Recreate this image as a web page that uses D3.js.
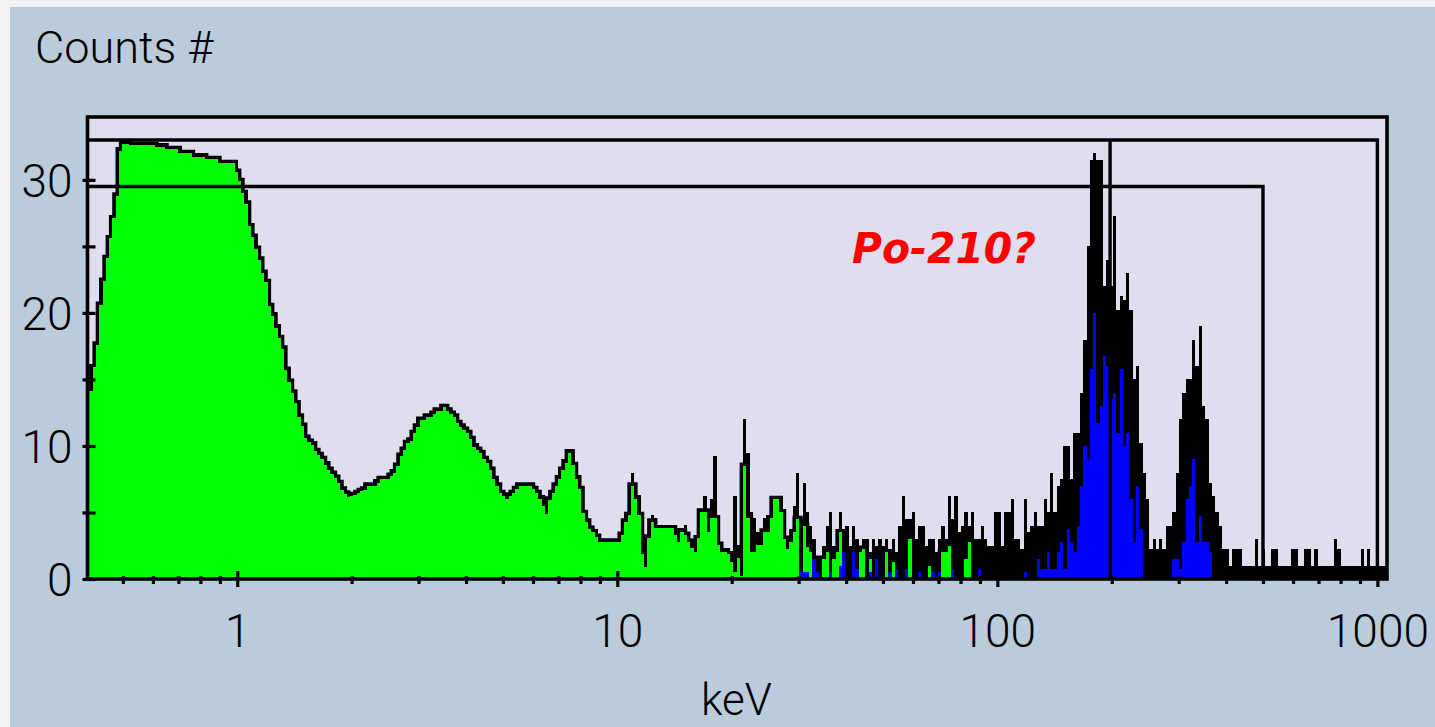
<!DOCTYPE html>
<html>
<head>
<meta charset="utf-8">
<script src="https://cdn.jsdelivr.net/npm/d3@7"></script>
<style>
  html, body { margin: 0; padding: 0; background: #f2f2f2; }
  svg { display: block; }
  .lbl { font-family: Roboto, "Liberation Sans", Arial, sans-serif; font-weight: 300; fill: #000; }
</style>
</head>
<body>
<svg id="chart" width="1435" height="727"></svg>
<script>
// Channel layout: log-spaced energy bins from E_MIN to E_MAX (keV)
const E_MIN = 0.4;
const E_MAX = 1060;
const BIN_COUNT = 394;

// Green spectrum, counts per channel starting at channel 0
const greenStart = 0;
const greenCounts = [
  12.5,14.1,15.9,17.6,20.6,22.4,24.1,25.6,27.1,28.8,
  32.2,32.7,32.7,32.6,32.6,32.6,32.6,32.6,32.6,32.6,
  32.6,32.5,32.5,32.5,32.3,32.3,32.3,32.3,32.0,32.0,
  32.0,32.0,31.75,31.75,31.75,31.75,31.55,31.55,31.55,31.55,
  31.25,31.25,31.25,31.25,31.25,30.6,29.9,29.0,28.2,26.5,
  25.7,24.8,24.0,23.0,22.3,20.5,19.8,18.9,18.1,17.3,
  15.7,14.8,14.0,13.2,12.2,11.5,10.6,10.3,10.1,9.6,
  9.3,9.0,8.6,8.2,7.9,7.6,7.2,6.7,6.4,6.2,
  6.25,6.3,6.45,6.6,6.7,7.0,7.0,7.0,7.25,7.5,
  7.5,7.5,7.75,8.0,8.5,9.25,9.7,10.2,10.4,10.95,
  11.45,11.95,11.95,12.2,12.2,12.4,12.65,12.65,12.9,12.65,
  12.4,12.2,11.7,11.45,11.2,10.95,10.5,9.95,9.7,9.45,
  9.0,8.7,8.2,7.5,7.0,6.45,6.25,6.05,6.25,6.45,
  6.75,7.0,7.0,7.0,7.0,6.75,6.45,6.05,5.5,4.9,
  5.95,6.45,7.0,7.55,8.2,8.75,9.5,8.55,7.55,6.75,
  4.95,4.3,3.75,3.5,3.15,2.8,2.8,2.8,2.8,2.8,
  2.8,2.8,3.3,4.3,4.8,7.0,6.05,4.8,1.85,0.9,
  3.1,4.3,3.8,3.8,3.8,3.8,3.8,3.8,3.3,2.8,
  3.55,3.3,2.8,2.3,2.05,3.05,5.05,5.05,3.55,4.55,
  4.55,2.55,2.05,2.05,1.85,1.3,0.55,1.55,0.2,8.5,
  4.55,2.05,2.05,2.55,2.55,3.55,3.55,4.55,6.0,6.0,
  5.0,3.0,2.25,2.75,3.5,4.5,0.5,4.0,2.4,2.0,
  1.5,0,0,1.5,2.0,0,1.5,2.0,3.5,0,
  0,0,0,0,2.0,2.25,0,1.5,0,0,
  0,0,2.0,0,1.25,0,0,0,0,3.0,
  0,0,0,0,0,1.0,0,0,0,2.0,
  2.0,2.5,0,0,0,0,1.5,2.75
];

// Black spectrum, counts per channel starting at channel 164
const blackStart = 164;
const blackCounts = [
  6.3,8.0,7.25,6.05,4.8,1.85,3.3,4.8,4.55,4.05,
  4.05,4.05,4.05,4.05,4.05,3.8,3.8,4.05,3.55,2.8,
  2.3,3.3,5.25,6.25,5.25,6.0,9.25,4.55,2.55,2.3,
  2.3,1.85,6.25,2.55,3.5,12.0,9.5,5.05,4.55,3.55,
  3.55,4.55,4.55,4.55,6.25,6.25,6.25,4.0,3.0,3.25,
  5.5,8.0,4.5,7.25,5.0,4.0,3.0,1.5,1.5,2.5,
  4.0,5.0,2.5,3.75,5.0,3.75,4.0,2.5,4.0,3.0,
  2.5,3.0,3.0,2.0,3.0,2.5,3.0,2.5,3.0,2.0,
  3.0,2.0,4.0,6.25,4.5,4.5,5.0,3.0,4.0,4.0,
  2.5,3.0,3.0,2.0,3.0,4.0,3.0,6.25,4.5,6.25,
  3.5,4.0,5.0,4.0,5.0,3.0,3.0,4.0,3.0,2.5,
  2.5,5.0,5.0,2.5,5.0,5.0,6.0,3.0,3.0,2.25,
  6.0,3.5,4.0,5.0,4.0,4.0,6.0,5.0,8.0,5.0,
  7.0,7.5,10.0,10.0,7.5,11.0,11.0,14.0,18.0,25.0,
  31.5,32.0,31.5,31.5,22.0,24.0,22.0,27.25,20.25,21.25,
  21.0,23.0,20.25,15.0,16.0,10.25,8.0,6.0,2.25,3.0,
  2.25,3.0,2.25,4.0,4.0,5.0,8.0,12.0,14.0,15.0,
  15.0,18.0,16.0,19.0,13.0,12.0,7.25,6.25,5.0,4.0,
  2.25,2.25,1.0,2.25,2.25,2.25,1.0,1.0,1.0,1.0,
  3.0,1.0,2.25,1.0,1.0,2.25,2.25,1.0,1.0,1.0,
  1.0,2.25,2.25,1.0,1.0,2.25,2.25,1.0,2.25,1.0,
  1.0,1.0,1.0,1.0,3.0,2.25,1.0,1.0,1.0,1.0,
  1.0,1.0,2.25,1.0,2.25,1.0,1.0,1.0,1.0,1.0
];

// Blue spectrum, counts per channel starting at channel 216
const blueStart = 216;
const blueCounts = [
  0.5,0.5,0.5,0,1.5,0.5,0,0,0,0.5,
  0,0,1.0,2.0,0,0,2.0,0.75,0,0,
  0,0.5,0,1.5,0,0,0,0.5,0,0.75,
  0,0,0.75,0,0,0,0.5,0,0,0,
  0.5,0,0.5,0,0,0,0.75,0,0,0,
  0,0,0,0,0.75,0,0,0,0,0,
  0,0,0,0,0,0,0,0,0.5,0,
  0,0,1.5,0.75,0.75,2.0,0.75,0.75,2.0,2.75,
  0.75,3.75,2.75,2.0,4.0,7.0,10.0,9.0,15.75,20.0,
  11.75,13.0,16.75,16.0,13.5,14.0,11.0,15.75,10.0,11.0,
  6.0,2.75,7.0,3.75,0,0,0,0,0,0,
  0,0,0,1.5,1.5,0.75,2.75,6.0,7.0,9.0,
  2.75,4.75,2.75,2.75,2.0
];

// Axis ticks
const yTickValues = [0, 5, 10, 15, 20, 25, 30];
const yTickLabels = [0, 10, 20, 30];
const xMajorTicks = [1, 10, 100, 1000];
const xMinorTicks = [0.5, 0.6, 0.7, 0.8, 0.9, 2, 3, 4, 5, 6, 7, 8, 9,
                     20, 30, 40, 50, 60, 70, 80, 90, 200, 300, 400, 500, 600, 700, 800, 900];

// Cursor / region markers: level (counts) and end energy (keV)
const markerLevels = [33.0, 29.5];
const markerEnds = [1000, 500];
const peakCursor = 198;
const peakLabel = "Po-210?";

const Y_MAX = 34.8;

const svg = d3.select("#chart");

// panel background
svg.append("rect").attr("x", 10).attr("y", 7).attr("width", 1425).attr("height", 720)
  .attr("fill", "#bacbdc");

const plot = { left: 86, right: 1387, top: 116, bottom: 579 };

const x = d3.scaleLog().domain([E_MIN, E_MAX]).range([plot.left, plot.right]);
const y = d3.scaleLinear().domain([0, Y_MAX]).range([plot.bottom, plot.top]);

svg.append("rect")
  .attr("x", plot.left).attr("y", plot.top)
  .attr("width", plot.right - plot.left).attr("height", plot.bottom - plot.top)
  .attr("fill", "#dedeee");

svg.append("defs").append("clipPath").attr("id", "plotClip")
  .append("rect")
  .attr("x", plot.left).attr("y", plot.top)
  .attr("width", plot.right - plot.left).attr("height", plot.bottom - plot.top);

const edge = i => E_MIN * Math.pow(E_MAX / E_MIN, i / BIN_COUNT);

function steps(start, values) {
  const pts = values.map((v, k) => ({ e: edge(start + k), v }));
  pts.push({ e: edge(start + values.length), v: values[values.length - 1] });
  return pts;
}

const area = d3.area().curve(d3.curveStepAfter)
  .x(d => x(d.e)).y0(y(0)).y1(d => y(d.v));
const line = d3.line().curve(d3.curveStepAfter)
  .x(d => x(d.e)).y(d => y(d.v));

const g = svg.append("g").attr("clip-path", "url(#plotClip)");

const greenPts = steps(greenStart, greenCounts);
const blackPts = steps(blackStart, blackCounts);
const bluePts = steps(blueStart, blueCounts);

// black spectrum
g.append("path").datum(blackPts).attr("d", area)
  .attr("fill", "#000").attr("shape-rendering", "crispEdges");

// green spectrum: dark outline then fill
g.append("path").datum(greenPts).attr("d", line)
  .attr("fill", "none").attr("stroke", "#000").attr("stroke-width", 7)
  .attr("stroke-linejoin", "miter");
g.append("path").datum(greenPts).attr("d", area)
  .attr("fill", "#00ff00").attr("shape-rendering", "crispEdges");

// blue spectrum
g.append("path").datum(bluePts).attr("d", area)
  .attr("fill", "#0000ff").attr("shape-rendering", "crispEdges");

// markers
markerLevels.forEach((lv, i) => {
  const pts = [[x(E_MIN), y(lv)], [x(markerEnds[i]), y(lv)], [x(markerEnds[i]), y(0)]];
  g.append("path").attr("d", d3.line()(pts))
    .attr("fill", "none").attr("stroke", "#000").attr("stroke-width", 3.4)
    .attr("stroke-linejoin", "miter");
});
g.append("line")
  .attr("x1", x(peakCursor)).attr("x2", x(peakCursor))
  .attr("y1", y(markerLevels[0])).attr("y2", y(0))
  .attr("stroke", "#000").attr("stroke-width", 3.4);

// frame
svg.append("rect")
  .attr("x", plot.left + 1.5).attr("y", plot.top + 1)
  .attr("width", plot.right - plot.left - 1.5).attr("height", plot.bottom - plot.top - 1)
  .attr("fill", "none").attr("stroke", "#000").attr("stroke-width", 3.6);

// x axis: major ticks with labels
const xAxisMajor = svg.append("g").attr("transform", `translate(0,${plot.bottom})`)
  .call(d3.axisBottom(x).tickValues(xMajorTicks).tickFormat(d3.format("d")).tickSize(8));
xAxisMajor.select(".domain").remove();
xAxisMajor.selectAll(".tick line")
  .attr("y1", -8).attr("y2", 8).attr("stroke", "#000").attr("stroke-width", 3.2);
xAxisMajor.selectAll(".tick text")
  .attr("class", "lbl").attr("y", 68).attr("dy", null)
  .attr("font-size", 46).attr("font-family", null);

// x axis: minor ticks
const xAxisMinor = svg.append("g").attr("transform", `translate(0,${plot.bottom})`)
  .call(d3.axisBottom(x).tickValues(xMinorTicks).tickFormat("").tickSize(4));
xAxisMinor.select(".domain").remove();
xAxisMinor.selectAll(".tick line")
  .attr("y1", -3).attr("y2", 5).attr("stroke", "#000").attr("stroke-width", 3.2);

// y axis
const yAxis = svg.append("g").attr("transform", `translate(${plot.left + 1.5},0)`)
  .call(d3.axisLeft(y).tickValues(yTickValues)
    .tickFormat(d => yTickLabels.includes(d) ? d : "").tickSize(5));
yAxis.select(".domain").remove();
yAxis.selectAll(".tick line")
  .attr("x1", -5).attr("x2", 8).attr("stroke", "#000").attr("stroke-width", 3.2);
yAxis.selectAll(".tick text")
  .attr("class", "lbl").attr("x", -15).attr("dy", "0.36em")
  .attr("font-size", 46).attr("font-family", null);

// titles
svg.append("text").attr("class", "lbl")
  .attr("x", 35).attr("y", 63).attr("font-size", 45)
  .text("Counts #");
svg.append("text").attr("class", "lbl")
  .attr("x", (plot.left + plot.right) / 2).attr("y", 715)
  .attr("text-anchor", "middle").attr("font-size", 44)
  .text("keV");

// annotation
svg.append("text")
  .attr("x", 852).attr("y", 263)
  .attr("font-family", "'DejaVu Sans', Verdana, sans-serif")
  .attr("font-weight", "bold").attr("font-style", "italic")
  .attr("font-size", 43).attr("fill", "#ff0000")
  .attr("textLength", 184).attr("lengthAdjust", "spacingAndGlyphs")
  .text(peakLabel);
</script>
</body>
</html>
